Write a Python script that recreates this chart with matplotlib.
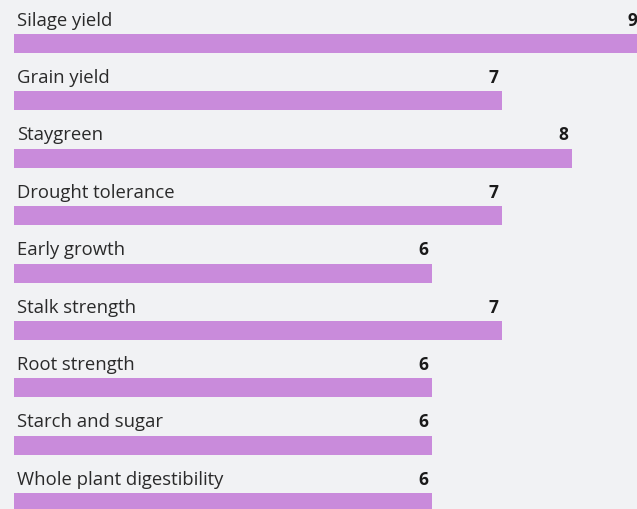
import matplotlib.pyplot as plt

traits = ["Silage yield", "Grain yield", "Staygreen", "Drought tolerance",
          "Early growth", "Stalk strength", "Root strength", "Starch and sugar",
          "Whole plant digestibility"]
scores = [9, 7, 8, 7, 6, 7, 6, 6, 6]

bg = "#f1f2f4"
bar_color = "#c98bdb"
text_color = "#2a2a2a"

fig = plt.figure(figsize=(6.37, 5.09), dpi=100, facecolor=bg)
ax = fig.add_axes([0, 0, 1, 1])
ax.set_facecolor(bg)

rows = range(len(traits))
ax.barh(rows, scores, height=0.331, color=bar_color, left=0)

# trait name above each bar on the left, bold score at the bar's end
for i, (name, val) in enumerate(zip(traits, scores)):
    ax.text(0.045, i - 0.40, name, ha="left", va="center",
            fontsize=13.3, color=text_color, family="Open Sans")
    ax.text(val - 0.06, i - 0.40, str(val), ha="right", va="center",
            fontsize=12.5, fontweight="bold", color="#1a1a1a", family="Open Sans")

ax.set_xlim(-0.2007, 8.932)
ax.set_ylim(8.110, -0.758)
ax.axis("off")

fig.savefig("out.png", dpi=100, facecolor=bg)
